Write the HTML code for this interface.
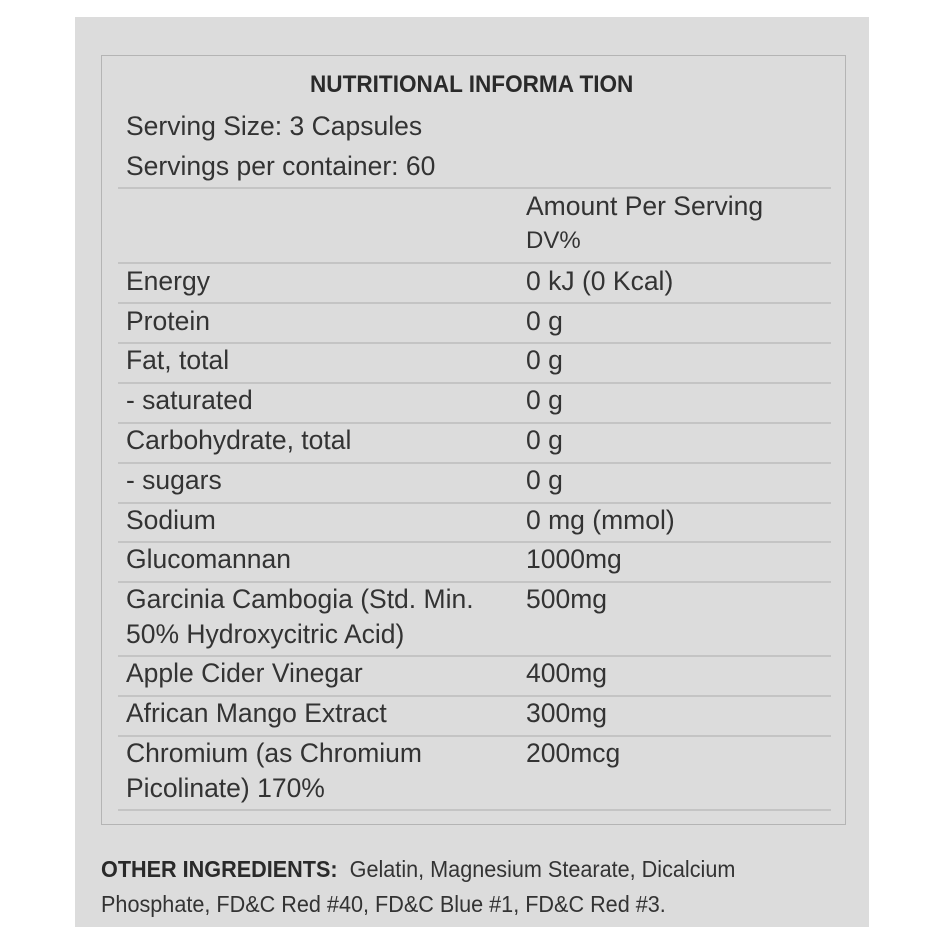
<!DOCTYPE html>
<html><head><style>
body{margin:0;width:944px;height:944px;background:#fff;position:relative;overflow:hidden;font-family:"Liberation Sans",sans-serif;color:#333;}
#panel{position:absolute;left:75px;top:17px;width:794px;height:910px;background:#dcdcdc;}
#box{position:absolute;left:101px;top:55px;width:745px;height:770px;border:1.5px solid #b4b4b4;box-sizing:border-box;}
.t{position:absolute;font-size:26.5px;line-height:28px;white-space:nowrap;}
.l{position:absolute;left:118px;width:713px;height:1.5px;background:#c4c4c4;}
.c{position:absolute;font-size:23px;line-height:28px;white-space:nowrap;transform:scaleX(0.94);transform-origin:left;}
</style></head><body>
<div id="panel"></div><div id="box"></div>
<div class="t" style="left:310px;top:71px;font-weight:bold;font-size:24px;transform:scaleX(0.94);transform-origin:left;color:#2a2a2a">NUTRITIONAL INFORMA TION</div>
<div class="t" style="left:126px;top:112px">Serving Size: 3 Capsules</div>
<div class="t" style="left:126px;top:152px">Servings per container: 60</div>
<div class="l" style="top:187px"></div>
<div class="t" style="left:526px;top:192px">Amount Per Serving</div>
<div class="t" style="left:526px;top:227px;font-size:24px">DV%</div>
<div class="l" style="top:262px"></div>
<div class="t" style="left:126px;top:267px">Energy</div><div class="t" style="left:526px;top:267px">0 kJ (0 Kcal)</div>
<div class="l" style="top:302px"></div>
<div class="t" style="left:126px;top:307px">Protein</div><div class="t" style="left:526px;top:307px">0 g</div>
<div class="l" style="top:342px"></div>
<div class="t" style="left:126px;top:346px">Fat, total</div><div class="t" style="left:526px;top:346px">0 g</div>
<div class="l" style="top:382px"></div>
<div class="t" style="left:126px;top:386px">- saturated</div><div class="t" style="left:526px;top:386px">0 g</div>
<div class="l" style="top:422px"></div>
<div class="t" style="left:126px;top:426px">Carbohydrate, total</div><div class="t" style="left:526px;top:426px">0 g</div>
<div class="l" style="top:462px"></div>
<div class="t" style="left:126px;top:466px">- sugars</div><div class="t" style="left:526px;top:466px">0 g</div>
<div class="l" style="top:502px"></div>
<div class="t" style="left:126px;top:506px">Sodium</div><div class="t" style="left:526px;top:506px">0 mg (mmol)</div>
<div class="l" style="top:541px"></div>
<div class="t" style="left:126px;top:545px">Glucomannan</div><div class="t" style="left:526px;top:545px">1000mg</div>
<div class="l" style="top:581px"></div>
<div class="t" style="left:126px;top:585px">Garcinia Cambogia (Std. Min.</div><div class="t" style="left:526px;top:585px">500mg</div>
<div class="t" style="left:126px;top:620px">50% Hydroxycitric Acid)</div>
<div class="l" style="top:655px"></div>
<div class="t" style="left:126px;top:659px">Apple Cider Vinegar</div><div class="t" style="left:526px;top:659px">400mg</div>
<div class="l" style="top:695px"></div>
<div class="t" style="left:126px;top:699px">African Mango Extract</div><div class="t" style="left:526px;top:699px">300mg</div>
<div class="l" style="top:735px"></div>
<div class="t" style="left:126px;top:739px">Chromium (as Chromium</div><div class="t" style="left:526px;top:739px">200mcg</div>
<div class="t" style="left:126px;top:774px">Picolinate) 170%</div>
<div class="l" style="top:809px"></div>
<div class="c" style="left:101px;top:855px"><b style="color:#2a2a2a">OTHER INGREDIENTS:</b>&nbsp; Gelatin, Magnesium Stearate, Dicalcium</div>
<div class="c" style="left:101px;top:890px">Phosphate, FD&amp;C Red #40, FD&amp;C Blue #1, FD&amp;C Red #3.</div>
</body></html>
